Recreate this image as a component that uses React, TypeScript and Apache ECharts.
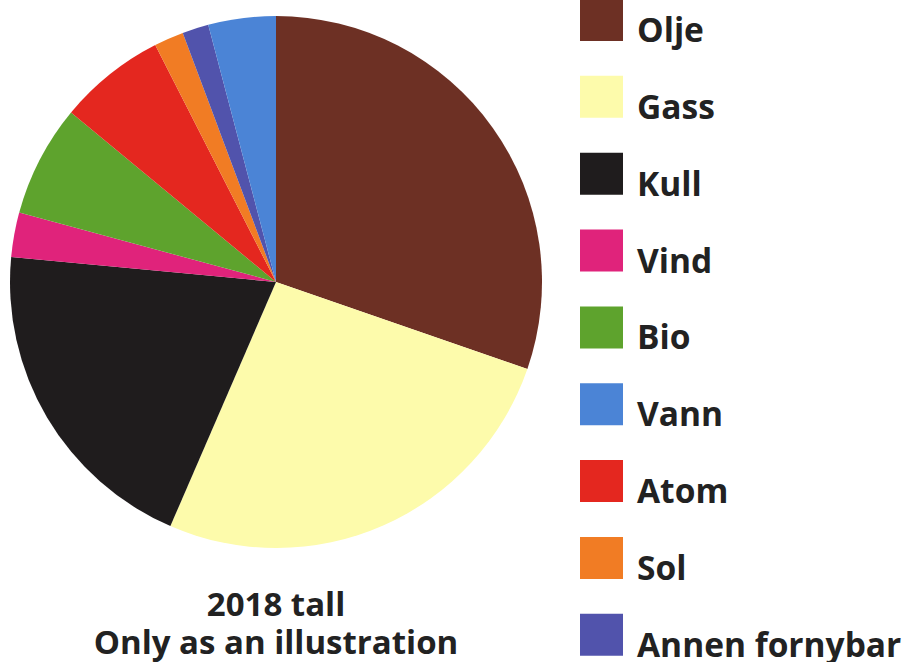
import React, { useEffect, useRef } from "react";
import * as echarts from "echarts";

const sliceNames = ["Olje", "Gass", "Kull", "Vind", "Bio", "Atom", "Sol", "Annen fornybar", "Vann"];
const sliceValues = [30.3, 26.2, 20.0, 2.7, 6.8, 6.5, 1.8, 1.6, 4.1];
const sliceColors = ["#6d3024", "#fdfbab", "#1f1c1d", "#e0237b", "#5ea32d", "#e4271f", "#f17c24", "#5153ac", "#4b84d6"];
const legendOrder = ["Olje", "Gass", "Kull", "Vind", "Bio", "Vann", "Atom", "Sol", "Annen fornybar"];
const titleLines = ["2018 tall", "Only as an illustration"];

export default function App() {
  const ref = useRef<HTMLDivElement>(null);
  useEffect(() => {
    if (!ref.current) return;
    const chart = echarts.init(ref.current, null, { renderer: "svg" });
    const font = "'Open Sans', 'Noto Sans', sans-serif";
    const txt = {
      fontFamily: font,
      fontWeight: "bold",
      fontSize: 33,
      lineHeight: 34,
      color: "#222222",
    };
    chart.setOption({
      animation: false,
      backgroundColor: "#ffffff",
      title: {
        text: titleLines[0],
        subtext: titleLines[1],
        left: 276,
        top: 586,
        padding: 0,
        itemGap: 4,
        textAlign: "center",
        textStyle: txt,
        subtextStyle: txt,
      },
      legend: {
        orient: "vertical",
        left: 580,
        top: -1,
        height: 720,
        padding: 0,
        itemWidth: 43,
        itemHeight: 42,
        itemGap: 29.85,
        icon: "rect",
        data: legendOrder,
        selectedMode: false,
        itemStyle: { borderWidth: 0 },
        formatter: (name: string) => `{s|}\n{t|${name}}`,
        textStyle: {
          fontFamily: font,
          fontWeight: "bold",
          fontSize: 33.5,
          color: "#222222",
          rich: {
            s: { lineHeight: 18, fontSize: 1 },
            t: {
              fontFamily: font,
              fontWeight: "bold",
              fontSize: 33.5,
              lineHeight: 24,
              color: "#222222",
              padding: [0, 0, 0, 9],
            },
          },
        },
      },
      series: [
        {
          type: "pie",
          center: [276, 282],
          radius: 266,
          startAngle: 90,
          clockwise: true,
          label: { show: false },
          labelLine: { show: false },
          itemStyle: { borderWidth: 0 },
          emphasis: { disabled: true },
          data: sliceNames.map((n, i) => ({
            name: n,
            value: sliceValues[i],
            itemStyle: { color: sliceColors[i] },
          })),
        },
      ],
    });
    return () => chart.dispose();
  }, []);
  return (
    <div
      ref={ref}
      style={{ position: "fixed", left: 0, top: 0, width: 914, height: 662 }}
    />
  );
}
